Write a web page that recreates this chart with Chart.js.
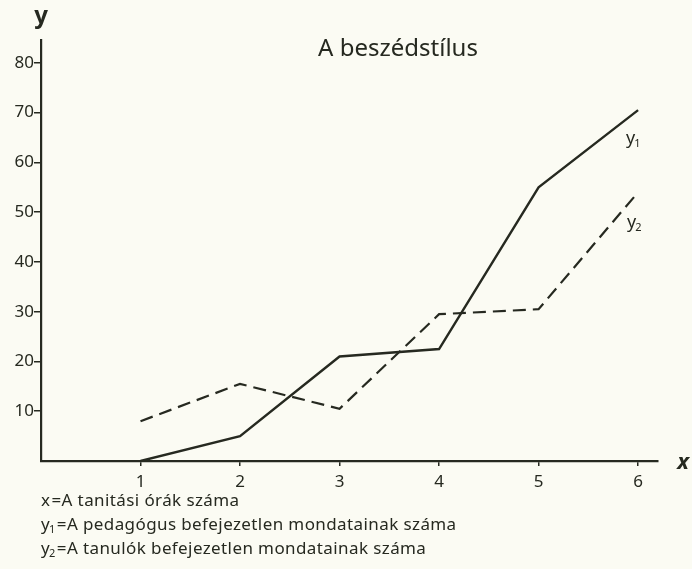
<!DOCTYPE html>
<html lang="hu">
<head>
<meta charset="UTF-8">
<title>A beszédstílus</title>
<style>
  html, body { margin: 0; padding: 0; background: #fbfbf3; }
  .wrap { width: 692px; height: 569px; }
</style>
</head>
<body>
<div class="wrap"><canvas id="chart" width="692" height="569"></canvas></div>

<script src="https://cdn.jsdelivr.net/npm/chart.js"></script>
<script>
  // data
  const xValues = [1, 2, 3, 4, 5, 6];
  const y1Values = [0, 5, 21, 22.5, 55, 70.5];
  const y2Values = [8, 15.5, 10.5, 29.5, 30.5, 54];
  const yTicks = [10, 20, 30, 40, 50, 60, 70, 80];
  const xTicks = [1, 2, 3, 4, 5, 6];

  const titleText = 'A beszédstílus';
  const legendLines = [
    ['x', '', '=A tanitási órák száma'],
    ['y', '1', '=A pedagógus befejezetlen mondatainak száma'],
    ['y', '2', '=A tanulók befejezetlen mondatainak száma']
  ];

  const ink = '#262920';
  const fontName = '"Noto Sans", sans-serif';

  const points = (ys) => xValues.map((x, i) => ({ x: x, y: ys[i] }));

  // writes "y" with a small index, returns end x
  function subText(ctx, base, idx, x, y, size) {
    ctx.font = size + 'px ' + fontName;
    ctx.fillText(base, x, y);
    let w = ctx.measureText(base).width;
    if (idx) {
      ctx.font = Math.round(size * 0.62) + 'px ' + fontName;
      ctx.fillText(idx, x + w - 1, y + size * 0.27);
      w += ctx.measureText(idx).width - 1;
    }
    return x + w;
  }

  const extras = {
    id: 'extras',
    afterDraw(chart) {
      const ctx = chart.ctx;
      const xs = chart.scales.x, ys = chart.scales.y;
      ctx.save();
      ctx.fillStyle = ink;
      ctx.textBaseline = 'middle';

      // axis names
      ctx.font = 'bold 24px ' + fontName;
      ctx.textAlign = 'center';
      ctx.fillText('y', 41, 16);
      ctx.font = 'italic bold 22px ' + fontName;
      ctx.fillText('x', 683, 463);

      // title
      ctx.font = '24px ' + fontName;
      ctx.fillText(titleText, 398, 49);

      // series labels beside the line ends
      ctx.textAlign = 'left';
      const last = xValues.length - 1;
      const px = xs.getPixelForValue(xValues[last]);
      subText(ctx, 'y', '1', px - 12, ys.getPixelForValue(y1Values[last]) + 29, 18);
      subText(ctx, 'y', '2', px - 11, ys.getPixelForValue(y2Values[last]) + 31, 18);

      // explanation lines under the axis
      ctx.letterSpacing = '0.4px';
      legendLines.forEach((l, i) => {
        const ly = 501 + i * 24;
        const end = subText(ctx, l[0], l[1], 41, ly, 17);
        ctx.font = '17px ' + fontName;
        ctx.fillText(l[2], end + 1, ly);
      });
      ctx.restore();
    }
  };

  new Chart(document.getElementById('chart'), {
    type: 'line',
    data: {
      datasets: [{
        label: 'y1',
        data: points(y1Values),
        borderColor: ink,
        borderWidth: 2.4,
        pointRadius: 0,
        tension: 0
      }, {
        label: 'y2',
        data: points(y2Values),
        borderColor: ink,
        borderWidth: 2.2,
        borderDash: [13, 7],
        pointRadius: 0,
        tension: 0
      }]
    },
    options: {
      responsive: false,
      animation: false,
      layout: { padding: { left: 0, right: 34, top: 40, bottom: 0 } },
      plugins: { legend: { display: false }, tooltip: { enabled: false } },
      scales: {
        x: {
          type: 'linear',
          min: 0,
          max: 6.2,
          afterBuildTicks: (s) => { s.ticks = xTicks.map(v => ({ value: v })); },
          afterFit: (s) => { s.height = 108; },
          grid: { drawOnChartArea: false, tickLength: 5, color: ink, lineWidth: 1.5 },
          border: { color: ink, width: 2.2 },
          ticks: { color: ink, font: { family: fontName, size: 17 }, padding: 6, maxRotation: 0 }
        },
        y: {
          min: 0,
          max: 84.6,
          afterBuildTicks: (s) => { s.ticks = yTicks.map(v => ({ value: v })); },
          afterFit: (s) => { s.width = 41; },
          grid: { drawOnChartArea: false, tickLength: 7, color: ink, lineWidth: 1.5 },
          border: { color: ink, width: 2.2 },
          ticks: { color: ink, font: { family: fontName, size: 17 }, padding: 0 }
        }
      }
    },
    plugins: [extras]
  });
</script>
</body>
</html>
